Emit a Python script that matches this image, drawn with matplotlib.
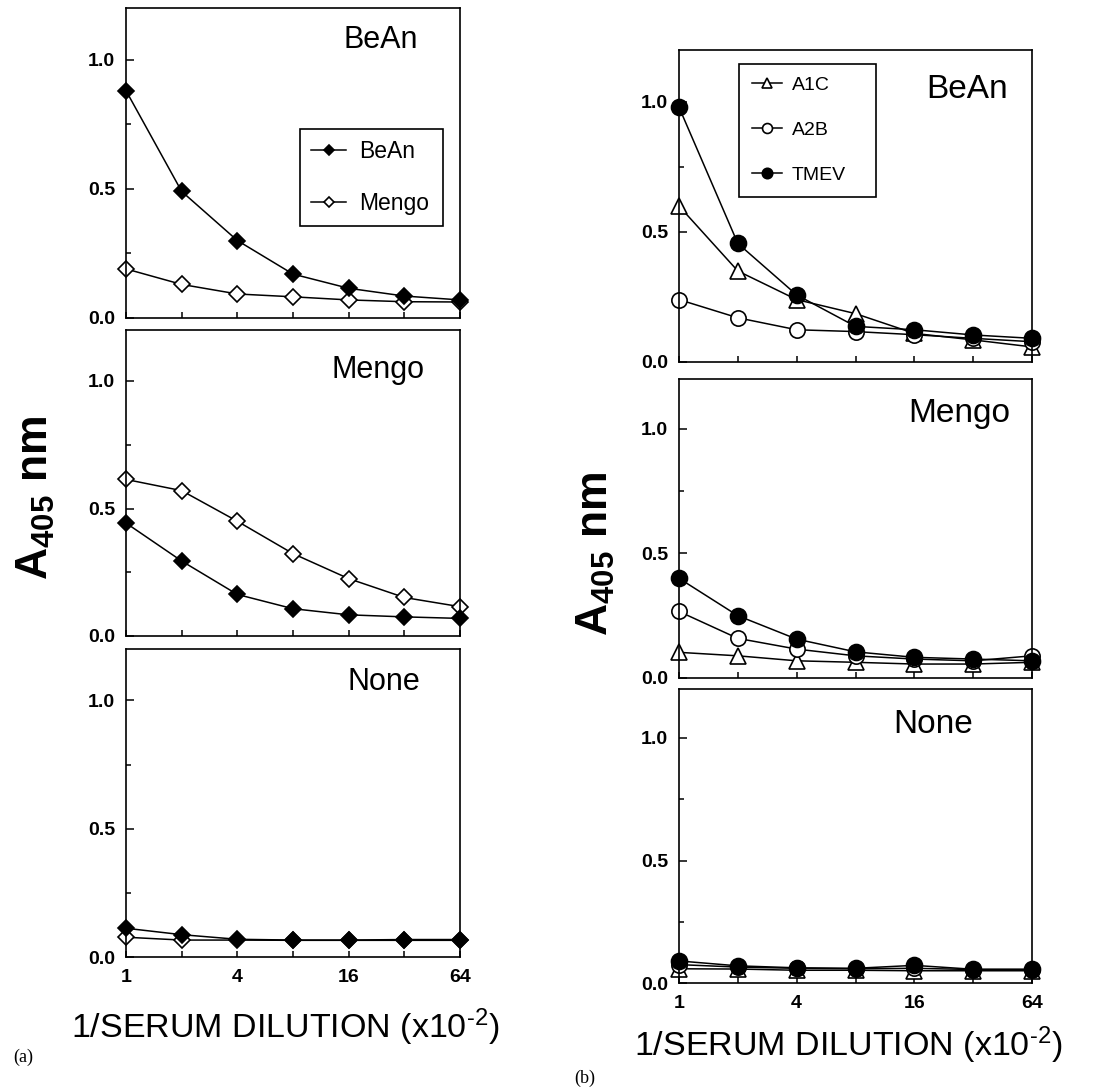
import matplotlib.pyplot as plt
from matplotlib.ticker import NullLocator

plt.rcParams['font.family'] = ['Liberation Sans', 'DejaVu Sans']
plt.rcParams['mathtext.fontset'] = 'custom'
plt.rcParams['mathtext.rm'] = 'Liberation Sans'
plt.rcParams['mathtext.default'] = 'regular'

# x values: 1/serum dilution (x10^-2), two-fold steps
dilution = [1, 2, 4, 8, 16, 32, 64]
x_tick_labels = ['1', '', '4', '', '16', '', '64']
y_ticks = [0.0, 0.5, 1.0]
y_tick_labels = ['0.0', '0.5', '1.0']

# (a) antigen BeAn / Mengo / None, sera against BeAn (filled) and Mengo (open)
a_bean_bean = [0.88, 0.49, 0.30, 0.17, 0.115, 0.085, 0.07]
a_bean_mengo = [0.19, 0.13, 0.093, 0.082, 0.07, 0.063, 0.062]
a_mengo_bean = [0.443, 0.294, 0.163, 0.107, 0.083, 0.075, 0.069]
a_mengo_mengo = [0.614, 0.57, 0.45, 0.323, 0.225, 0.151, 0.115]
a_none_bean = [0.112, 0.087, 0.069, 0.066, 0.066, 0.068, 0.068]
a_none_mengo = [0.077, 0.066, 0.066, 0.065, 0.065, 0.065, 0.065]

# (b) antigen BeAn / Mengo / None, sera A1C, A2B, TMEV
b_bean_a1c = [0.60, 0.35, 0.24, 0.186, 0.11, 0.085, 0.058]
b_bean_a2b = [0.24, 0.17, 0.124, 0.117, 0.105, 0.091, 0.078]
b_bean_tmev = [0.98, 0.456, 0.258, 0.137, 0.124, 0.104, 0.091]
b_mengo_a1c = [0.103, 0.089, 0.069, 0.063, 0.056, 0.056, 0.063]
b_mengo_a2b = [0.267, 0.159, 0.116, 0.089, 0.076, 0.069, 0.089]
b_mengo_tmev = [0.40, 0.25, 0.156, 0.105, 0.083, 0.076, 0.069]
b_none_a1c = [0.058, 0.057, 0.052, 0.052, 0.05, 0.05, 0.05]
b_none_a2b = [0.075, 0.065, 0.06, 0.058, 0.06, 0.055, 0.055]
b_none_tmev = [0.09, 0.07, 0.062, 0.06, 0.072, 0.056, 0.056]

W, H = 1113, 1087
fig = plt.figure(figsize=(W / 100, H / 100), dpi=100)


def panel(x0, x1, y0, y1, bottom=False):
    ax = fig.add_axes([x0 / W, 1 - y1 / H, (x1 - x0) / W, (y1 - y0) / H])
    ax.set_xscale('log', base=2)
    ax.set_xlim(1, 64)
    ax.set_ylim(0, 1.2)
    ax.set_xticks(dilution)
    ax.set_xticklabels(x_tick_labels if bottom else [''] * len(dilution))
    ax.xaxis.set_minor_locator(NullLocator())
    ax.set_yticks(y_ticks)
    ax.set_yticklabels(y_tick_labels)
    ax.set_yticks([0.25, 0.75], minor=True)
    ax.tick_params(which='major', direction='in', length=5.5, width=1.1,
                   labelsize=14, pad=8)
    ax.tick_params(which='minor', direction='in', length=3.5, width=1.1)
    ax.tick_params(axis='x', length=4.5, pad=9)
    for lab in ax.get_xticklabels() + ax.get_yticklabels():
        lab.set_fontweight('bold')
    for sp in ax.spines.values():
        sp.set_linewidth(1.2)
    return ax


def draw(ax, y, marker, filled, ms):
    return ax.plot(dilution, y, color='black', lw=1.1, marker=marker, ms=ms,
                   mfc='black' if filled else 'white', mec='black', mew=1.2,
                   clip_on=False)[0]


# ---- panel (a)
axa = [panel(126, 460, 8, 318), panel(126, 460, 330, 636),
       panel(126, 460, 649, 957, bottom=True)]
a_data = [(a_bean_bean, a_bean_mengo), (a_mengo_bean, a_mengo_mengo),
          (a_none_bean, a_none_mengo)]
a_titles = [('BeAn', 0.874, 0.897), ('Mengo', 0.895, 0.869), ('None', 0.88, 0.893)]
for ax, (bean, mengo), (t, tx, ty) in zip(axa, a_data, a_titles):
    h_mengo = draw(ax, mengo, 'D', False, 7.8)
    h_bean = draw(ax, bean, 'D', True, 7.8)
    ax.text(tx, ty, t, transform=ax.transAxes, ha='right', va='center', fontsize=22)
axa[0].legend([h_bean, h_mengo], ['BeAn', 'Mengo'], loc='upper left',
              bbox_to_anchor=(0.521, 0.61, 0.428, 0.0), mode='expand',
              borderaxespad=0, fontsize=16.5, handlelength=1.5, handletextpad=0.6,
              labelspacing=1.25, borderpad=0.5, markerscale=0.7,
              fancybox=False, framealpha=1, edgecolor='black').get_frame().set_linewidth(1.2)

# ---- panel (b)
axb = [panel(679, 1032, 50, 362), panel(679, 1032, 379, 678),
       panel(679, 1032, 689, 983, bottom=True)]
b_data = [(b_bean_a1c, b_bean_a2b, b_bean_tmev),
          (b_mengo_a1c, b_mengo_a2b, b_mengo_tmev),
          (b_none_a1c, b_none_a2b, b_none_tmev)]
b_titles = [('BeAn', 0.932, 0.872), ('Mengo', 0.938, 0.886), ('None', 0.833, 0.878)]
for ax, (a1c, a2b, tmev), (t, tx, ty) in zip(axb, b_data, b_titles):
    h_a1c = draw(ax, a1c, '^', False, 11)
    h_a2b = draw(ax, a2b, 'o', False, 11)
    h_tmev = draw(ax, tmev, 'o', True, 11.5)
    ax.text(tx, ty, t, transform=ax.transAxes, ha='right', va='center', fontsize=24)
axb[0].legend([h_a1c, h_a2b, h_tmev], ['A1C', 'A2B', 'TMEV'], loc='upper left',
              bbox_to_anchor=(0.17, 0.955, 0.388, 0.0), mode='expand',
              borderaxespad=0, fontsize=14, handlelength=1.55, handletextpad=0.5,
              labelspacing=1.4, borderpad=0.65, markerscale=0.65,
              fancybox=False, framealpha=1, edgecolor='black').get_frame().set_linewidth(1.2)

# ---- axis titles
xlabel = '1/SERUM DILUTION (x10$^{\u20102}$)'
fig.text(36 / W, 1 - 498 / H, r'A$_{405}$ nm', rotation=90, ha='center', va='center',
         fontsize=32, fontweight='bold')
fig.text(596 / W, 1 - 554 / H, r'A$_{405}$ nm', rotation=90, ha='center', va='center',
         fontsize=32, fontweight='bold')
fig.text(285 / W, 1 - 1027 / H, xlabel, ha='center', va='center', fontsize=24.5)
fig.text(848 / W, 1 - 1045 / H, xlabel, ha='center', va='center', fontsize=24.5)
fig.text(23 / W, 1 - 1057 / H, '(a)', ha='center', va='center', fontsize=13,
         family='Liberation Serif')
fig.text(585 / W, 1 - 1078 / H, '(b)', ha='center', va='center', fontsize=13,
         family='Liberation Serif')

fig.savefig('out.png', dpi=100, facecolor='white')
